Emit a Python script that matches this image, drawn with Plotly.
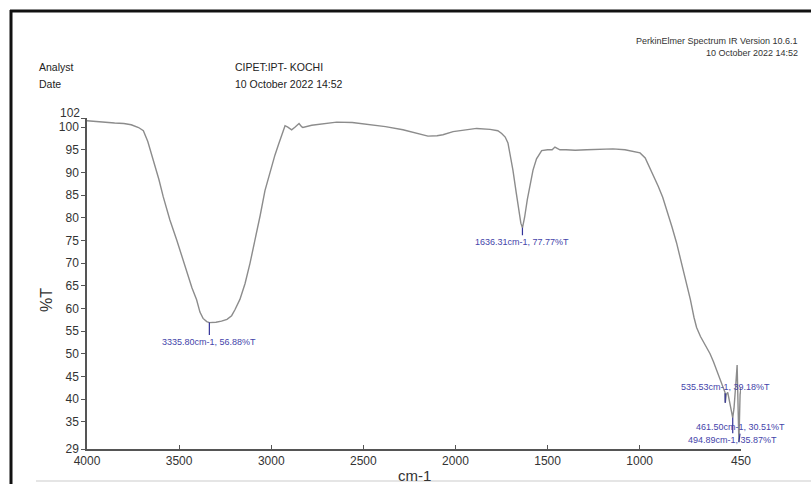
import plotly.graph_objects as go

# Spectrum data (wavenumber cm-1, %T)
wavenumber = [4000, 3950, 3900, 3850, 3800, 3760, 3720, 3694, 3670, 3640, 3610, 3586, 3550, 3513, 3485,
              3459, 3430, 3405, 3387, 3370, 3350, 3335.8, 3300, 3270, 3240, 3215, 3197, 3170, 3142, 3115,
              3088, 3060, 3034, 3005, 2980, 2960, 2942, 2925, 2910, 2889, 2870, 2849, 2835, 2828, 2780,
              2700, 2645, 2560, 2464, 2380, 2285, 2200, 2149, 2100, 2068, 2013, 1950, 1885, 1812, 1770,
              1749, 1730, 1715, 1700, 1688, 1670, 1655, 1645, 1636.31, 1625, 1610, 1595, 1579, 1560, 1532,
              1500, 1475, 1460, 1433, 1400, 1350, 1288, 1220, 1145, 1080, 1036, 998, 970, 944, 920,
              900, 875, 850, 825, 800, 775, 750, 725, 705, 691, 670, 645, 618, 600, 582, 560, 545,
              537, 535.53, 530, 522, 515, 506, 500, 494.89, 488, 483, 477, 471, 466, 461.5, 458, 455, 450]
transmittance = [101.4, 101.2, 101.0, 100.9, 100.8, 100.5, 99.9, 99.2, 96.8, 92.7, 88.5, 84.6, 79.5, 75.1, 71.5,
                 67.7, 64.5, 61.9, 59.2, 57.8, 57.1, 56.88, 56.95, 57.2, 57.6, 58.4, 59.7, 62.0, 65.5, 70.0,
                 75.0, 80.5, 86.0, 90.5, 93.8, 96.2, 98.3, 100.3, 100.0, 99.4, 100.0, 100.8, 100.1, 99.9, 100.4,
                 100.9, 101.1, 101.0, 100.6, 100.1, 99.4, 98.6, 98.0, 98.1, 98.3, 99.0, 99.4, 99.7, 99.5, 99.2,
                 98.6, 97.8, 96.5, 93.5, 90.5, 85.5, 81.0, 78.8, 77.77, 80.0, 84.0, 87.5, 90.5, 93.0, 94.8,
                 95.0, 95.0, 95.6, 95.0, 95.0, 94.9, 95.0, 95.1, 95.2, 95.0, 94.6, 94.3, 93.2, 91.0, 89.0,
                 87.0, 84.5, 81.5, 78.0, 74.5, 70.5, 66.5, 62.0, 58.0, 55.8, 53.8, 52.0, 50.0, 48.3, 46.4, 44.0, 42.5,
                 41.5, 39.18, 41.0, 41.5, 40.0, 38.3, 37.0, 35.87, 38.0, 40.0, 44.0, 47.5, 41.0, 30.51, 36.0, 41.0, 42.5]

# Labelled peaks
peak_wn = [3335.80, 1636.31, 535.53, 461.50, 494.89]
peak_T = [56.88, 77.77, 39.18, 30.51, 35.87]

x_ticks = [4000, 3500, 3000, 2500, 2000, 1500, 1000, 450]
y_ticks = [29, 35, 40, 45, 50, 55, 60, 65, 70, 75, 80, 85, 90, 95, 100, 102]
y_ticktext = [str(v) for v in y_ticks]
y_ticktext[-1] = ""  # the top label is drawn slightly raised, as in the print

FONT = "Liberation Sans, Arial, sans-serif"
BLUE = "#4444aa"

fig = go.Figure()
fig.add_trace(go.Scatter(x=wavenumber, y=transmittance, mode="lines",
                         line=dict(color="#8c8c8c", width=1.4), showlegend=False,
                         hoverinfo="x+y"))

# label offsets (pixels) for each peak annotation
offsets = [(0, 19), (0, 14), (0, -16), (2, -15), (0, 22)]
for wn, t, (ax, ay) in zip(peak_wn, peak_T, offsets):
    fig.add_annotation(x=wn, y=t, xref="x", yref="y",
                       text=f"{wn:.2f}cm-1, {t:.2f}%T",
                       showarrow=True, arrowhead=0, arrowwidth=1.2, arrowcolor="#333399",
                       ax=ax, ay=ay, standoff=0, startstandoff=0,
                       font=dict(family=FONT, size=9, color=BLUE))


def px_to_paper_x(px):
    return (px - 87) / 654.0


def px_to_paper_y(py):
    return (449 - py) / 331.0


header = [
    ("Analyst", 37, 67, "left", 10.5, "#222"),
    ("Date", 37, 84, "left", 10.5, "#222"),
    ("CIPET:IPT- KOCHI", 233, 67, "left", 10.5, "#222"),
    ("10 October 2022 14:52", 233, 84, "left", 10.5, "#222"),
    ("PerkinElmer Spectrum IR Version 10.6.1", 800, 41, "right", 9, "#333"),
    ("10 October 2022 14:52", 800, 53, "right", 9, "#333"),
]
for txt, px, py, anchor, size, col in header:
    fig.add_annotation(x=px_to_paper_x(px), y=px_to_paper_y(py), xref="paper", yref="paper",
                       text=txt, showarrow=False, xanchor=anchor, yanchor="middle",
                       font=dict(family=FONT, size=size, color=col))

# raised top tick label
fig.add_annotation(x=px_to_paper_x(82), y=px_to_paper_y(113), xref="paper", yref="paper",
                   text=str(y_ticks[-1]), showarrow=False, xanchor="right", yanchor="middle",
                   font=dict(family=FONT, size=12, color="#333"))

fig.add_annotation(x=px_to_paper_x(46), y=px_to_paper_y(300), xref="paper", yref="paper",
                   text="%T", textangle=-90, showarrow=False, xanchor="center", yanchor="middle",
                   font=dict(family=FONT, size=16, color="#333"))
fig.add_annotation(x=px_to_paper_x(414), y=px_to_paper_y(475), xref="paper", yref="paper",
                   text="cm-1", showarrow=False, xanchor="center", yanchor="middle",
                   font=dict(family=FONT, size=15, color="#333"))

# frame lines of the original print
fig.add_shape(type="line", xref="paper", yref="paper",
              x0=px_to_paper_x(10), x1=px_to_paper_x(812), y0=px_to_paper_y(11), y1=px_to_paper_y(11),
              line=dict(color="#111", width=3))
fig.add_shape(type="line", xref="paper", yref="paper",
              x0=px_to_paper_x(11), x1=px_to_paper_x(11), y0=px_to_paper_y(10), y1=px_to_paper_y(485),
              line=dict(color="#111", width=3))
fig.add_shape(type="line", xref="paper", yref="paper",
              x0=px_to_paper_x(36), x1=px_to_paper_x(811), y0=px_to_paper_y(481), y1=px_to_paper_y(481),
              line=dict(color="#dddddd", width=1.5))

fig.update_layout(
    width=811, height=484,
    margin=dict(l=87, r=70, t=118, b=35),
    paper_bgcolor="white", plot_bgcolor="white",
    showlegend=False,
    font=dict(family=FONT, size=12, color="#333"),
    xaxis=dict(range=[4000, 450], tickmode="array", tickvals=x_ticks,
               ticktext=[str(v) for v in x_ticks],
               showgrid=False, zeroline=False, showline=True, linecolor="#555", linewidth=1.5,
               ticks="inside", ticklen=4, tickcolor="#555", mirror=False,
               tickfont=dict(family=FONT, size=12, color="#333")),
    yaxis=dict(range=[29, 102], tickmode="array", tickvals=y_ticks,
               ticktext=y_ticktext,
               showgrid=False, zeroline=False, showline=True, linecolor="#555", linewidth=1.5,
               ticks="outside", ticklen=4, tickcolor="#555", mirror=False,
               tickfont=dict(family=FONT, size=12, color="#333")),
)

fig.write_html("out.html")
